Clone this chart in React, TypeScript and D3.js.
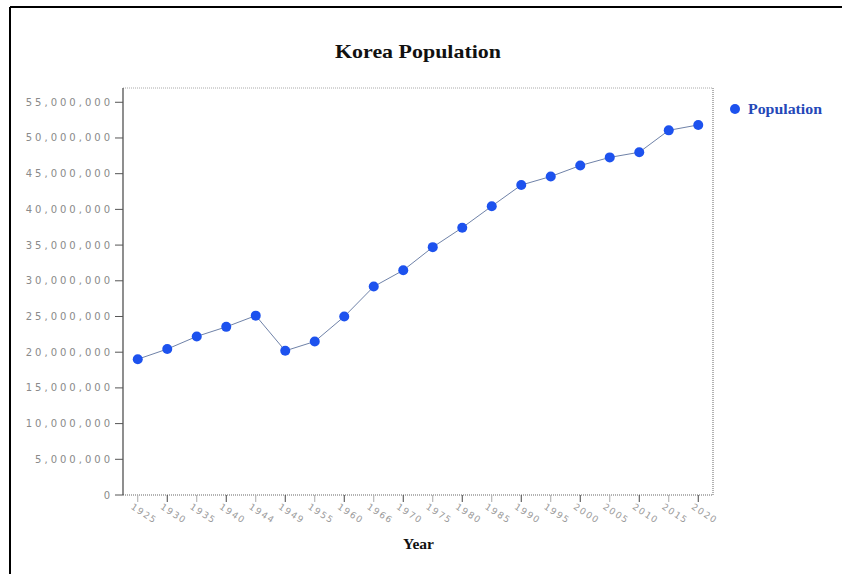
import React from "react";
import * as d3 from "d3";

const years: string[] = [
  "1925", "1930", "1935", "1940", "1944", "1949", "1955", "1960", "1966", "1970",
  "1975", "1980", "1985", "1990", "1995", "2000", "2005", "2010", "2015", "2020",
];
const population: number[] = [
  19020000, 20440000, 22210000, 23550000, 25120000, 20190000, 21500000, 24990000,
  29190000, 31470000, 34710000, 37440000, 40450000, 43410000, 44610000, 46140000,
  47280000, 48000000, 51070000, 51830000,
];
const yTicks: number[] = [0, 5e6, 10e6, 15e6, 20e6, 25e6, 30e6, 35e6, 40e6, 45e6, 50e6, 55e6];

const W = 842;
const H = 574;
const plot = { left: 123, right: 713, top: 88, bottom: 495 };
const markerColor = "#1d52ee";

export default function App() {
  const x = d3.scalePoint<string>().domain(years).range([plot.left, plot.right]).padding(0.5);
  const y = d3.scaleLinear().domain([0, 57e6]).range([plot.bottom, plot.top]);
  const fmt = d3.format(",");
  const line = d3
    .line<number>()
    .x((_, i) => x(years[i]) as number)
    .y((d) => y(d));

  return (
    <svg
      width={W}
      height={H}
      style={{ position: "absolute", left: 0, top: 0, background: "#fff" }}
    >
      {/* outer frame */}
      <line x1={10} y1={7} x2={W} y2={7} stroke="#000" strokeWidth={2} />
      <line x1={10} y1={7} x2={10} y2={H} stroke="#000" strokeWidth={2} />

      <text
        x={335}
        y={58}
        textLength={166}
        lengthAdjust="spacingAndGlyphs"
        fontFamily="'Liberation Serif', serif"
        fontWeight="bold"
        fontSize={19}
        fill="#111"
      >
        Korea Population
      </text>

      {/* plot box */}
      <line x1={plot.left} y1={plot.top} x2={plot.right} y2={plot.top} stroke="#aaa" strokeDasharray="1,1" />
      <line x1={plot.right} y1={plot.top} x2={plot.right} y2={plot.bottom} stroke="#999" strokeWidth={1.5} strokeDasharray="1,1" />
      <line x1={plot.left} y1={plot.bottom} x2={plot.right} y2={plot.bottom} stroke="#999" strokeWidth={1.5} strokeDasharray="1,1" />
      <line x1={plot.left} y1={plot.top} x2={plot.left} y2={plot.bottom} stroke="#444" strokeWidth={1.2} />

      {/* y axis */}
      {yTicks.map((t) => (
        <g key={t}>
          <line x1={plot.left - 8} x2={plot.left} y1={y(t)} y2={y(t)} stroke="#555" />
          <text
            x={plot.left - 10}
            y={y(t)}
            dy="0.35em"
            textAnchor="end"
            fontFamily="'DejaVu Sans', sans-serif"
            fontSize={10}
            style={{ letterSpacing: "3px" }}
            fill="#8a8a8a"
          >
            {fmt(t)}
          </text>
        </g>
      ))}

      {/* x axis */}
      {years.map((yr, i) => {
        const px = x(yr) as number;
        return (
          <g key={yr}>
            <line x1={px} x2={px} y1={plot.bottom} y2={plot.bottom + 7} stroke={i % 2 ? "#444" : "#aaa"} />
            <text
              transform={`translate(${px - 4},${plot.bottom + 8}) rotate(33)`}
              dy="0.7em"
              fontFamily="'DejaVu Sans', sans-serif"
              fontSize={9}
              style={{ letterSpacing: "1.5px" }}
              fill="#9a9a9a"
            >
              {yr}
            </text>
          </g>
        );
      })}

      <text
        x={403}
        y={549}
        textLength={31}
        lengthAdjust="spacingAndGlyphs"
        fontFamily="'Liberation Serif', serif"
        fontWeight="bold"
        fontSize={14}
        fill="#111"
      >
        Year
      </text>

      {/* series */}
      <path d={line(population) || ""} fill="none" stroke="#6f82a8" strokeWidth={1} />
      {population.map((v, i) => (
        <circle key={years[i]} cx={x(years[i]) as number} cy={y(v)} r={5} fill={markerColor} />
      ))}

      {/* legend */}
      <circle cx={735} cy={109} r={5} fill={markerColor} />
      <text
        x={748}
        y={114}
        textLength={74}
        lengthAdjust="spacingAndGlyphs"
        fontFamily="'Liberation Serif', serif"
        fontWeight="bold"
        fontSize={14}
        fill="#2448b8"
      >
        Population
      </text>
    </svg>
  );
}
